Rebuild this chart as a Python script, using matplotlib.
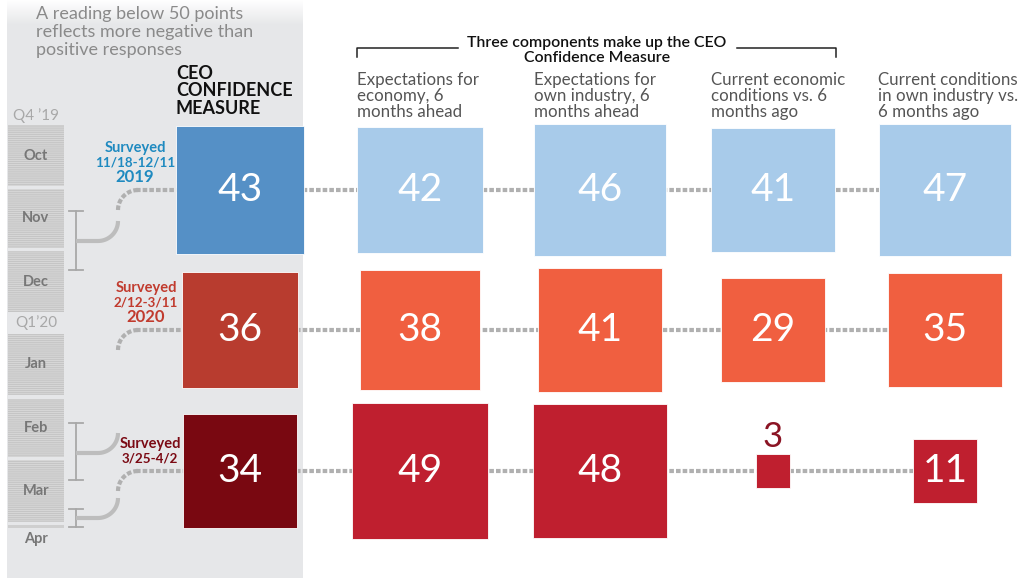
import numpy as np
import matplotlib
matplotlib.use("Agg")
import matplotlib.pyplot as plt
from matplotlib.patches import Rectangle

plt.rcParams['font.family'] = ['Lato', 'DejaVu Sans']

# --- data ---
periods = ['Q4 2019', 'Q1 2020', 'Late Mar 2020']
ceo_measure = [43, 36, 34]
econ_ahead = [42, 38, 49]
industry_ahead = [46, 41, 48]
econ_vs_6mo = [41, 29, 3]
industry_vs_6mo = [47, 35, 11]

col_titles = ['Expectations for\neconomy, 6\nmonths ahead',
              'Expectations for\nown industry, 6\nmonths ahead',
              'Current economic\nconditions vs. 6\nmonths ago',
              'Current conditions\nin own industry vs.\n6 months ago']
survey_labels = [('Surveyed', '11/18-12/11', '2019'),
                 ('Surveyed', '2/12-3/11', '2020'),
                 ('Surveyed', '3/25-4/2', '')]
months = ['Oct', 'Nov', 'Dec', 'Jan', 'Feb', 'Mar']

# colours
ceo_colors = ['#5590c6', '#b83c2f', '#790811']
comp_colors = ['#a8cbea', '#f05f40', '#bf1f2f']
survey_colors = ['#1f8ac0', '#c13b2e', '#7b0a14']
dot_grey = '#b0b0b0'

# layout (pixel coordinates)
col_x = [240, 420, 600, 773, 945]
row_y = [190, 330, 471]
scale = 19.4  # side = scale * sqrt(value)

fig = plt.figure(figsize=(10.2, 5.81), dpi=100)
ax = fig.add_axes([0, 0, 1, 1])
ax.set_xlim(0, 1020)
ax.set_ylim(581, 0)
ax.axis('off')

# left grey panel with fade at top
panel = '#e6e7e9'
ax.add_patch(Rectangle((7, 25), 296, 553, facecolor=panel, edgecolor='none', zorder=0))
grad = np.linspace(0, 1, 50).reshape(-1, 1)
c0 = np.array([1.0, 1.0, 1.0])
c1 = np.array(matplotlib.colors.to_rgb(panel))
img = c0 + (c1 - c0) * grad[:, :, None]
img = np.repeat(img, 2, axis=1)
ax.imshow(img, extent=[7, 303, 25, 0], aspect='auto', zorder=0, interpolation='bilinear')

ax.text(36, 6, 'A reading below 50 points\nreflects more negative than\npositive responses',
        fontsize=13, color='#8a8a8a', va='top', ha='left', linespacing=1.15)

ax.text(176, 91, 'CEO\nCONFIDENCE\nMEASURE', fontsize=13, fontweight='bold',
        color='#111111', va='center', ha='left', linespacing=1.07)

# month strips
strips = [(125, 186), (189, 248), (251, 312), (334, 395), (399, 457), (460, 522)]
plt.rcParams['hatch.linewidth'] = 0.6
for (y0, y1), m in zip(strips, months):
    ax.add_patch(Rectangle((8, y0), 56, y1 - y0, facecolor='#d6d6d6', edgecolor='#c2c2c2',
                           hatch='--------', linewidth=0, zorder=1))
    ax.text(36, (y0 + y1) / 2, m, fontsize=10.5, fontweight='bold', color='#777777',
            ha='center', va='center', zorder=2)
ax.add_patch(Rectangle((8, 525), 56, 3, facecolor='#cfcfcf', edgecolor='none', zorder=1))
ax.text(36, 539, 'Apr', fontsize=10.5, fontweight='bold', color='#777777', ha='center', va='center')
ax.text(36, 116, 'Q4 \u201919', fontsize=11, color='#a8a8a8', ha='center', va='center')
ax.text(36, 323, 'Q1\u201920', fontsize=11, color='#a8a8a8', ha='center', va='center')

# survey brackets and connectors
brackets = [(211, 270, 241), (423, 480, 453), (509, 527, 518)]
bx, vx = 76, 118


def connector(y_stem, y_row, r=20):
    dy = y_stem - y_row
    r = min(r, dy / 2)
    t = np.linspace(0, np.pi / 2, 20)
    xs = [np.array([bx, vx - r])]
    ys = [np.array([y_stem, y_stem])]
    xs.append(vx - r + r * np.sin(t)); ys.append(y_stem - r + r * np.cos(t))
    xs.append(np.array([vx, vx])); ys.append(np.array([y_stem - r, y_row + r]))
    xs.append(vx + r - r * np.cos(t)); ys.append(y_row + r - r * np.sin(t))
    return np.concatenate(xs), np.concatenate(ys)


for (y0, y1, ys), yr in zip(brackets, row_y):
    ax.plot([bx, bx], [y0, y1], color='#a8a8a8', lw=1.3, zorder=2)
    ax.plot([bx - 7, bx + 7], [y0, y0], color='#a8a8a8', lw=1.3, zorder=2)
    ax.plot([bx - 7, bx + 7], [y1, y1], color='#a8a8a8', lw=1.3, zorder=2)
    cx, cy = connector(ys, yr)
    mid = (ys + yr) / 2
    solid = cy >= mid
    ax.plot(cx[solid], cy[solid], color='#bdbdbd', lw=3, solid_capstyle='butt', zorder=2)
    ax.plot(cx[~solid], cy[~solid], color=dot_grey, lw=3, ls=(0, (1.1, 0.5)), zorder=2)

# survey labels
label_x = [135, 146, 150]
for i, (l1, l2, l3) in enumerate(survey_labels):
    top = row_y[i] - (42 if l3 else 27)
    ax.text(label_x[i], top, l1, fontsize=10.5, fontweight='bold', color=survey_colors[i],
            ha='center', va='center')
    ax.text(label_x[i], top + 14.5, l2, fontsize=9.6, fontweight='bold', color=survey_colors[i],
            ha='center', va='center')
    if l3:
        ax.text(label_x[i], top + 29.5, l3, fontsize=12, fontweight='bold', color=survey_colors[i],
                ha='center', va='center')

# header bracket for the three components
ax.text(597, 43, 'Three components make up the CEO', fontsize=11.4,
        fontweight='semibold', color='#111111', ha='center', va='center')
ax.text(597, 58, 'Confidence Measure', fontsize=11.4,
        fontweight='semibold', color='#111111', ha='center', va='center')
ax.plot([357, 357, 458], [57, 48, 48], color='#222222', lw=1.1)
ax.plot([737, 836, 836], [48, 48, 57], color='#222222', lw=1.1)

col_left = [357, 534, 711, 878]
for xl, t in zip(col_left, col_titles):
    ax.text(xl, 96, t, fontsize=12.2, color='#555555', ha='left', va='center', linespacing=1.03)

# squares
series = [ceo_measure, econ_ahead, industry_ahead, econ_vs_6mo, industry_vs_6mo]
for r, yr in enumerate(row_y):
    vals = [s[r] for s in series]
    sides = [scale * np.sqrt(v) for v in vals]
    # dotted connector through the row
    ax.plot([vx + 18, col_x[-1] - sides[-1] / 2], [yr, yr], color=dot_grey, lw=3,
            ls=(0, (1.1, 0.5)), zorder=2)
    for c, (v, s) in enumerate(zip(vals, sides)):
        fc = ceo_colors[r] if c == 0 else comp_colors[r]
        ax.add_patch(Rectangle((col_x[c] - s / 2, yr - s / 2), s, s, facecolor=fc,
                               edgecolor='white', linewidth=0.6, zorder=3))
        if s > 50:
            ax.text(col_x[c], yr, str(v), fontsize=28, color='white',
                    ha='center', va='center', zorder=4)
        else:
            ax.text(col_x[c], yr - s / 2 - 17, str(v), fontsize=25,
                    color='#8b1424', ha='center', va='center', zorder=4)

fig.savefig('out.png', dpi=100)
